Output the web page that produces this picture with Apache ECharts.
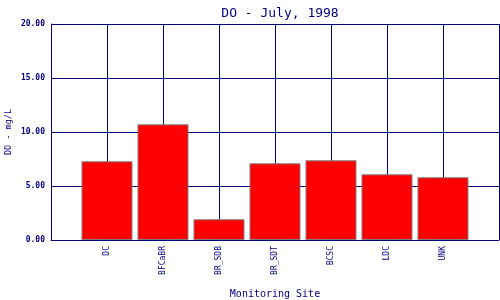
<!DOCTYPE html>
<html>
<head>
<meta charset="utf-8">
<script src="https://cdn.jsdelivr.net/npm/echarts@6/dist/echarts.min.js"></script>
<style>html,body{margin:0;padding:0;background:#fff;}#c{width:500px;height:300px;}</style>
</head>
<body>
<div id="c"></div>
<script>
var sites = ['DC', 'BFCaBR', 'BR_SDB', 'BR_SDT', 'BCSC', 'LDC', 'UNK'];
var values = [7.29, 10.71, 1.92, 7.10, 7.38, 6.08, 5.81];
var yTicks = [0, 5, 10, 15, 20];

var navy = '#000080';
var mono = '"DejaVu Sans Mono", "Liberation Mono", monospace';
var chart = echarts.init(document.getElementById('c'), null, {renderer: 'canvas'});
chart.setOption({
  animation: false,
  backgroundColor: '#fff',
  title: {
    text: 'DO - July, 1998',
    left: 275, top: 2, textAlign: 'center',
    textStyle: {color: navy, fontFamily: mono, fontSize: 13, fontWeight: 'normal'}
  },
  grid: {left: 51, right: 1, top: 24, bottom: 60, containLabel: false, outerBoundsMode: 'none'},
  xAxis: {
    type: 'value', min: 0, max: sites.length + 1, interval: 1,
    name: 'Monitoring Site', nameLocation: 'middle', nameGap: 49, nameMoveOverlap: false,
    nameTextStyle: {color: navy, fontFamily: mono, fontSize: 10},
    axisLine: {show: true, lineStyle: {color: navy, width: 1}},
    axisTick: {show: false},
    splitLine: {show: true, lineStyle: {color: navy, width: 1}},
    axisLabel: {
      rotate: 90, color: navy, fontFamily: mono, fontSize: 8, margin: 6,
      formatter: function (v) { return sites[v - 1] || ''; }
    }
  },
  yAxis: {
    type: 'value', min: yTicks[0], max: yTicks[yTicks.length - 1], interval: 5,
    name: 'DO - mg/L', nameLocation: 'middle', nameGap: 38, nameRotate: 90, nameMoveOverlap: false,
    nameTextStyle: {color: navy, fontFamily: mono, fontSize: 8.5},
    axisLine: {show: true, lineStyle: {color: navy, width: 1}},
    axisTick: {show: false},
    splitLine: {show: true, lineStyle: {color: navy, width: 1}},
    axisLabel: {
      color: navy, fontFamily: mono, fontSize: 8, fontWeight: 'bold', margin: 6,
      formatter: function (v) { return v.toFixed(2); }
    }
  },
  series: [{
    type: 'bar',
    barWidth: 51,
    data: values.map(function (v, i) { return [i + 1, v]; }),
    itemStyle: {color: '#ff0000', borderColor: '#808080', borderWidth: 1}
  }]
});
</script>
</body>
</html>
